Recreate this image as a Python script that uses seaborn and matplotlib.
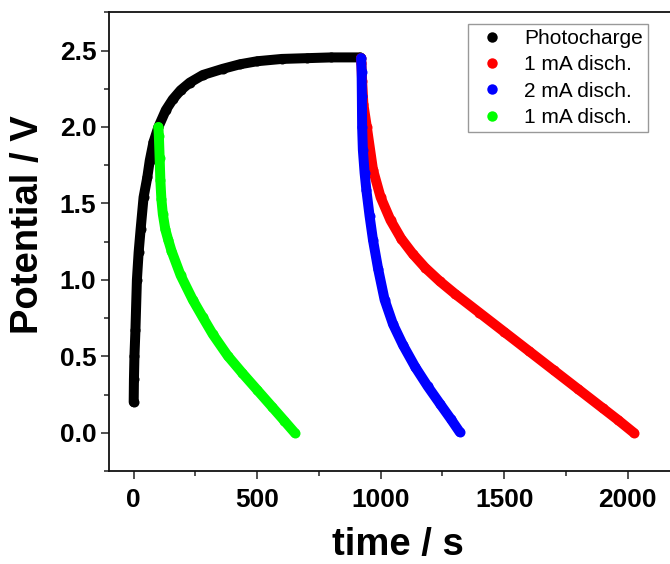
import numpy as np
import pandas as pd
import matplotlib
matplotlib.use("Agg")
import matplotlib.pyplot as plt
import seaborn as sns
from matplotlib.lines import Line2D
from matplotlib.ticker import MultipleLocator, FormatStrFormatter

# Photocharge curve (time in s, potential in V)
t_charge = [0, 1, 3, 7, 13, 20, 28, 40, 55, 65, 80, 100, 130, 158, 190, 227, 280, 360, 430, 500, 600, 700, 800, 915]
v_charge = [0.20, 0.35, 0.50, 0.67, 1.00, 1.18, 1.33, 1.54, 1.67, 1.78, 1.90, 2.00, 2.11, 2.18, 2.24, 2.29, 2.34, 2.38, 2.41, 2.43, 2.445, 2.45, 2.455, 2.455]

# 1 mA discharge after full charge (red)
t_red = [920, 922, 925, 930, 944, 969, 1000, 1040, 1083, 1130, 1180, 1240, 1300, 1400, 1500, 1600, 1700, 1800, 1900, 1960, 2025]
v_red = [2.45, 2.42, 2.30, 2.15, 2.00, 1.72, 1.54, 1.39, 1.27, 1.17, 1.08, 0.99, 0.91, 0.785, 0.66, 0.535, 0.41, 0.285, 0.16, 0.085, 0.00]

# 2 mA discharge (blue)
t_blue = [921, 923, 924, 925, 928, 935, 942, 955, 969, 990, 1016, 1050, 1090, 1140, 1190, 1240, 1285, 1320]
v_blue = [2.45, 2.36, 2.20, 2.00, 1.85, 1.70, 1.59, 1.42, 1.26, 1.07, 0.87, 0.71, 0.575, 0.43, 0.305, 0.19, 0.088, 0.005]

# 1 mA discharge from 2.0 V (green)
t_green = [100, 102, 105, 108, 112, 118, 128, 140, 153, 190, 239, 280, 320, 380, 440, 500, 560, 610, 652]
v_green = [2.00, 1.94, 1.80, 1.65, 1.53, 1.43, 1.33, 1.26, 1.19, 1.03, 0.87, 0.755, 0.645, 0.505, 0.39, 0.28, 0.17, 0.078, 0.00]

labels = ["Photocharge", "1 mA disch.", "2 mA disch.", "1 mA disch."]
colors = ["#000000", "#ff0000", "#0000ff", "#00ff00"]

series = [(t_charge, v_charge), (t_red, v_red), (t_blue, v_blue), (t_green, v_green)]

sns.set_theme(style="ticks")
plt.rcParams["font.family"] = ["Liberation Sans", "DejaVu Sans"]
plt.rcParams["text.color"] = "black"
plt.rcParams["axes.labelcolor"] = "black"
plt.rcParams["xtick.color"] = "black"
plt.rcParams["ytick.color"] = "black"

fig = plt.figure(figsize=(6.7, 5.64), dpi=100)
# axes run a bit past the right edge of the figure, as in the original
ax = fig.add_axes([109 / 670, 93 / 564, 568 / 670, 458.7 / 564])

for (t, v), c in zip(series, colors):
    df = pd.DataFrame({"time": t, "potential": v})
    sns.lineplot(data=df, x="time", y="potential", ax=ax, color=c, sort=False,
                 linewidth=7.2, marker="o", markersize=7.2, markeredgewidth=0,
                 solid_capstyle="round", solid_joinstyle="round")

ax.set_xlim(-100, 2200)
ax.set_ylim(-0.25, 2.75)
ax.xaxis.set_major_locator(MultipleLocator(500))
ax.xaxis.set_minor_locator(MultipleLocator(250))
ax.yaxis.set_major_locator(MultipleLocator(0.5))
ax.yaxis.set_minor_locator(MultipleLocator(0.25))
ax.yaxis.set_major_formatter(FormatStrFormatter("%.1f"))

ax.tick_params(which="major", direction="out", length=6, width=1.1, labelsize=19, color="#222222")
ax.tick_params(which="minor", direction="out", length=3.5, width=1.1, color="#222222")
ax.tick_params(axis="x", which="major", pad=6)
ax.tick_params(axis="y", which="major", pad=3)
for lbl in ax.get_xticklabels() + ax.get_yticklabels():
    lbl.set_fontweight("bold")

for sp in ax.spines.values():
    sp.set_linewidth(1.3)
    sp.set_color("#111111")

ax.set_xlabel("time / s", fontsize=27.5, fontweight="bold")
ax.set_ylabel("Potential / V", fontsize=27.5, fontweight="bold")
ax.xaxis.label.set_verticalalignment("baseline")
ax.xaxis.set_label_coords((398 - 109) / 568, (471 - 555) / 458.7)
ax.yaxis.set_label_coords((46 - 109) / 568, (471 - 225) / 458.7)

handles = [Line2D([], [], marker="o", linestyle="", color=c, markersize=7.5, markeredgewidth=0)
           for c in colors]
leg = ax.legend(handles, labels, loc="upper right", bbox_to_anchor=(648 / 670, 1 - 24 / 564),
                bbox_transform=fig.transFigure, fontsize=15, frameon=True, fancybox=False,
                framealpha=1, edgecolor="#999999", borderpad=0.25, labelspacing=0.35,
                handlelength=1.8, handletextpad=0.65, borderaxespad=0)
leg.get_frame().set_linewidth(1.0)

fig.savefig("out.png", dpi=100)
